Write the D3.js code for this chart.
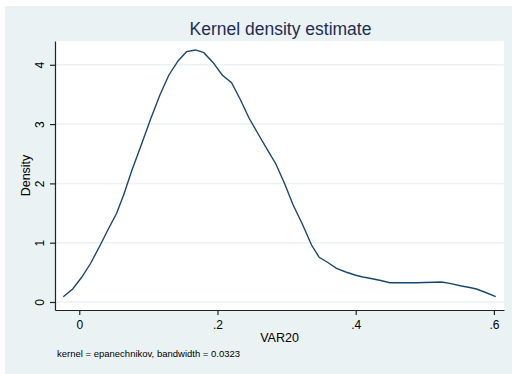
<!DOCTYPE html>
<html><head><meta charset="utf-8">
<script src="https://cdn.jsdelivr.net/npm/d3@7"></script>
<style>body{margin:0;background:#fff}svg{display:block;font-family:"Liberation Sans",Arial,sans-serif}</style>
</head><body><svg id="c" width="512" height="374"></svg>
<script>
const xValues = [-0.0231,-0.0095,0.0035,0.0165,0.0299,0.0419,0.0541,0.0646,0.0758,0.0902,0.1037,0.1167,0.1297,0.1432,0.1553,0.1683,0.1803,0.1938,0.2068,0.2204,0.2334,0.2458,0.2589,0.2719,0.2845,0.2975,0.3095,0.3221,0.3361,0.3471,0.3597,0.3722,0.3857,0.3987,0.4103,0.4204,0.4363,0.4493,0.4623,0.4879,0.4999,0.5129,0.5241,0.5361,0.5530,0.5650,0.5747,0.5881,0.6026];
const density = [0.089,0.219,0.417,0.653,0.949,1.226,1.496,1.816,2.209,2.664,3.098,3.491,3.828,4.069,4.221,4.250,4.204,4.035,3.828,3.698,3.406,3.098,2.833,2.575,2.327,1.985,1.636,1.332,0.961,0.754,0.666,0.568,0.506,0.455,0.422,0.400,0.363,0.325,0.325,0.325,0.329,0.332,0.337,0.315,0.270,0.245,0.219,0.160,0.089];
const xTicks = [0,0.2,0.4,0.6];
const xTickLabels = ["0",".2",".4",".6"];
const yTicks = [0,1,2,3,4];
const yTickLabels = ["0","1","2","3","4"];
const title = "Kernel density estimate";
const xTitle = "VAR20";
const yTitle = "Density";
const note = "kernel = epanechnikov, bandwidth = 0.0323";

const svg = d3.select("#c");
const L=55, R=504, T=41, B=310;
svg.append("rect").attr("x",5).attr("y",6).attr("width",507).attr("height",368).attr("fill","#eaf2f3");
svg.append("rect").attr("x",L).attr("y",T).attr("width",R-L).attr("height",B-T).attr("fill","#fff");

const x = d3.scaleLinear().domain([-0.0351,0.6146]).range([L,R]);
const y = d3.scaleLinear().domain([-0.135,4.401]).range([B,T]);

// grid
svg.append("g").selectAll("line").data(yTicks).join("line")
  .attr("x1",L).attr("x2",R).attr("y1",d=>y(d)).attr("y2",d=>y(d))
  .attr("stroke","#eaf2f3").attr("stroke-width",1.5);

// line
const pts = xValues.map((v,i)=>[v,density[i]]);
svg.append("path").datum(pts)
  .attr("d",d3.line().x(d=>x(d[0])).y(d=>y(d[1])))
  .attr("fill","none").attr("stroke","#1a476f").attr("stroke-width",1.4);

// axes
const xa = svg.append("g").attr("transform",`translate(0,${B})`)
  .call(d3.axisBottom(x).tickValues(xTicks).tickFormat((d,i)=>xTickLabels[i]).tickSize(5).tickPadding(5).tickSizeOuter(0));
xa.select(".domain").attr("stroke","#222").attr("stroke-width",1.2);
xa.selectAll(".tick line").attr("stroke","#222").attr("stroke-width",1.2);
xa.selectAll("text").attr("font-size",12).attr("fill","#000").attr("font-family","Liberation Sans, Arial, sans-serif");

const ya = svg.append("g").attr("transform",`translate(${L},0)`)
  .call(d3.axisLeft(y).tickValues(yTicks).tickFormat((d,i)=>yTickLabels[i]).tickSize(5).tickPadding(4).tickSizeOuter(0));
ya.select(".domain").attr("stroke","#222").attr("stroke-width",1.2);
ya.selectAll(".tick line").attr("stroke","#222").attr("stroke-width",1.2);
ya.selectAll(".tick text").attr("font-size",12).attr("fill","#000").attr("font-family","Liberation Sans, Arial, sans-serif")
  .attr("transform","rotate(-90)").attr("x",0).attr("y",-11).attr("dy","0em").attr("text-anchor","middle");

svg.append("text").attr("x",(L+R)/2+1).attr("y",35).attr("text-anchor","middle")
  .attr("font-size",17.5).attr("fill","#1e2d53").text(title);
svg.append("text").attr("x",(L+R)/2).attr("y",342).attr("text-anchor","middle")
  .attr("font-size",12.5).attr("fill","#000").text(xTitle);
svg.append("text").attr("transform",`translate(30,${(T+B)/2}) rotate(-90)`).attr("text-anchor","middle")
  .attr("font-size",12.5).attr("fill","#000").text(yTitle);
svg.append("text").attr("x",57).attr("y",357).attr("font-size",9.5).attr("fill","#000").text(note);
</script></body></html>
